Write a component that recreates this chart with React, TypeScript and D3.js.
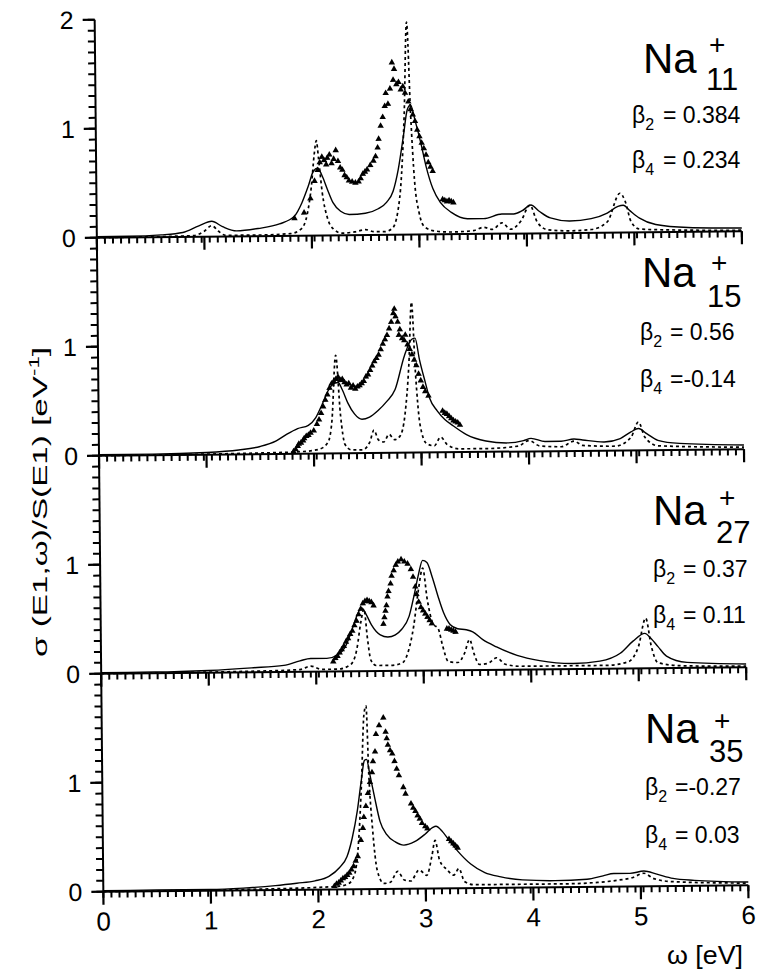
import React, { useEffect, useRef } from "react";
import * as d3 from "d3";

// photo-absorption spectra of Na cluster ions, 4 stacked panels
const clusterSizes = ["11", "15", "27", "35"];
const beta2Text = ["= 0.384", "= 0.56", "= 0.37", "=-0.27"];
const beta4Text = ["= 0.234", "=-0.14", "= 0.11", "= 0.03"];
const xTicks = [0, 1, 2, 3, 4, 5, 6];

const na11Solid = [
  [0, 0.01], [0.3, 0.01], [0.6, 0.02], [0.8, 0.04], [0.95, 0.1], [1.07, 0.14], [1.17, 0.09], [1.3, 0.05],
  [1.5, 0.07], [1.7, 0.11], [1.84, 0.18], [1.91, 0.3], [1.97, 0.45], [2.02, 0.59], [2.06, 0.62], [2.1, 0.55],
  [2.15, 0.42], [2.2, 0.3], [2.27, 0.22], [2.35, 0.19], [2.5, 0.2], [2.62, 0.24], [2.7, 0.3], [2.76, 0.4],
  [2.81, 0.6], [2.86, 0.9], [2.9, 1.15], [2.93, 1.19], [2.97, 1.05], [3.02, 0.85], [3.07, 0.62], [3.13, 0.42],
  [3.2, 0.29], [3.3, 0.2], [3.45, 0.14], [3.6, 0.14], [3.77, 0.18], [3.88, 0.18], [3.96, 0.21], [4.04, 0.26],
  [4.12, 0.2], [4.22, 0.14], [4.4, 0.11], [4.6, 0.13], [4.75, 0.18], [4.85, 0.24], [4.9, 0.25], [4.96, 0.2],
  [5.05, 0.13], [5.2, 0.07], [5.5, 0.04], [6, 0.03],
];
const na11Dashed = [
  [0, 0], [0.9, 0.01], [1.0, 0.05], [1.07, 0.1], [1.13, 0.05], [1.2, 0.01], [1.5, 0.01], [1.8, 0.02],
  [1.9, 0.06], [1.96, 0.2], [2.0, 0.45], [2.03, 0.75], [2.05, 0.87], [2.07, 0.7], [2.1, 0.4], [2.15, 0.15],
  [2.2, 0.06], [2.28, 0.02], [2.4, 0.03], [2.5, 0.05], [2.58, 0.03], [2.68, 0.03], [2.75, 0.06], [2.8, 0.2],
  [2.84, 0.55], [2.87, 1.1], [2.9, 1.95], [2.93, 1.1], [2.96, 0.5], [3.0, 0.2], [3.05, 0.07], [3.15, 0.03],
  [3.3, 0.02], [3.5, 0.03], [3.6, 0.06], [3.68, 0.04], [3.77, 0.1], [3.85, 0.04], [3.95, 0.12], [4.03, 0.26],
  [4.1, 0.1], [4.2, 0.03], [4.4, 0.02], [4.6, 0.03], [4.75, 0.1], [4.87, 0.36], [4.92, 0.28], [4.97, 0.1],
  [5.05, 0.03], [5.3, 0.02], [6, 0.01],
];
const na11Exp = [
  [1.84, 0.16], [1.93, 0.21], [1.99, 0.34], [2.03, 0.5], [2.06, 0.6], [2.08, 0.67], [2.1, 0.72], [2.12, 0.69],
  [2.14, 0.65], [2.15, 0.71], [2.17, 0.74], [2.19, 0.66], [2.21, 0.7], [2.23, 0.78], [2.25, 0.68], [2.27, 0.62],
  [2.29, 0.6], [2.31, 0.55], [2.33, 0.53], [2.35, 0.5], [2.38, 0.49], [2.41, 0.48], [2.44, 0.49], [2.46, 0.52],
  [2.48, 0.56], [2.5, 0.58], [2.52, 0.6], [2.55, 0.64], [2.58, 0.68], [2.6, 0.72], [2.62, 0.8], [2.63, 0.88],
  [2.65, 1.0], [2.67, 1.08], [2.69, 1.18], [2.7, 1.3], [2.72, 1.2], [2.74, 1.34], [2.76, 1.58], [2.78, 1.52],
  [2.77, 1.42], [2.8, 1.38], [2.82, 1.4], [2.84, 1.33], [2.86, 1.36], [2.88, 1.3], [2.91, 1.22], [2.93, 1.15],
  [2.95, 1.1], [2.97, 1.04], [2.99, 0.96], [3.01, 0.9], [3.03, 0.84], [3.05, 0.79], [3.07, 0.73], [3.09, 0.66],
  [3.11, 0.62], [3.13, 0.58], [3.22, 0.32], [3.24, 0.31], [3.26, 0.3], [3.28, 0.31], [3.3, 0.3], [3.32, 0.29],
];

const na15Solid = [
  [0, 0.01], [0.5, 0.01], [1.0, 0.02], [1.3, 0.04], [1.5, 0.07], [1.65, 0.12], [1.75, 0.18], [1.85, 0.23],
  [1.95, 0.26], [2.02, 0.33], [2.08, 0.45], [2.14, 0.58], [2.19, 0.64], [2.23, 0.65], [2.27, 0.58], [2.32, 0.46],
  [2.38, 0.36], [2.45, 0.31], [2.52, 0.33], [2.6, 0.39], [2.68, 0.47], [2.76, 0.58], [2.85, 0.89], [2.92, 1.04],
  [2.95, 1.05], [2.99, 0.85], [3.04, 0.65], [3.08, 0.5], [3.15, 0.38], [3.22, 0.3], [3.3, 0.24], [3.42, 0.16],
  [3.6, 0.1], [3.8, 0.08], [3.95, 0.1], [4.02, 0.12], [4.15, 0.09], [4.3, 0.09], [4.42, 0.11], [4.5, 0.1],
  [4.7, 0.08], [4.85, 0.11], [4.95, 0.17], [5.02, 0.2], [5.1, 0.15], [5.2, 0.09], [5.4, 0.06], [6, 0.04],
];
const na15Dashed = [
  [0, 0], [1.5, 0.01], [1.9, 0.02], [2.05, 0.04], [2.13, 0.1], [2.17, 0.3], [2.21, 0.9], [2.25, 0.35],
  [2.29, 0.08], [2.35, 0.03], [2.45, 0.03], [2.52, 0.1], [2.56, 0.21], [2.6, 0.12], [2.65, 0.1], [2.7, 0.17],
  [2.75, 0.12], [2.8, 0.15], [2.85, 0.35], [2.89, 0.8], [2.92, 1.38], [2.95, 0.75], [2.99, 0.25], [3.05, 0.08],
  [3.12, 0.06], [3.18, 0.14], [3.24, 0.07], [3.35, 0.03], [3.6, 0.03], [3.9, 0.05], [4.0, 0.1], [4.1, 0.05],
  [4.3, 0.04], [4.42, 0.09], [4.5, 0.05], [4.8, 0.04], [4.95, 0.12], [5.02, 0.26], [5.08, 0.12], [5.2, 0.04],
  [6, 0.02],
];
const na15Exp = [
  [1.81, 0.02], [1.83, 0.04], [1.85, 0.07], [1.86, 0.09], [1.88, 0.1], [1.9, 0.12], [1.91, 0.14], [1.93, 0.16],
  [1.95, 0.17], [1.97, 0.19], [2.0, 0.21], [2.03, 0.27], [2.05, 0.31], [2.07, 0.37], [2.09, 0.43], [2.11, 0.49],
  [2.13, 0.54], [2.15, 0.6], [2.17, 0.64], [2.19, 0.66], [2.21, 0.68], [2.23, 0.7], [2.25, 0.67], [2.27, 0.68],
  [2.29, 0.65], [2.31, 0.63], [2.33, 0.64], [2.35, 0.6], [2.37, 0.62], [2.39, 0.59], [2.41, 0.61], [2.43, 0.62],
  [2.45, 0.64], [2.47, 0.66], [2.49, 0.7], [2.51, 0.72], [2.53, 0.76], [2.55, 0.8], [2.57, 0.84], [2.59, 0.87],
  [2.61, 0.9], [2.63, 0.95], [2.65, 1.0], [2.67, 1.04], [2.69, 1.08], [2.71, 1.14], [2.73, 1.2], [2.75, 1.28],
  [2.76, 1.32], [2.77, 1.25], [2.79, 1.2], [2.8, 1.08], [2.81, 1.13], [2.83, 1.05], [2.85, 1.03], [2.86, 1.08],
  [2.88, 0.99], [2.9, 0.95], [2.92, 0.9], [2.94, 0.85], [2.96, 0.8], [2.98, 0.72], [3.0, 0.66], [3.02, 0.6],
  [3.04, 0.56], [3.07, 0.52], [3.2, 0.38], [3.22, 0.36], [3.24, 0.35], [3.26, 0.33], [3.28, 0.31], [3.3, 0.29],
  [3.32, 0.28], [3.34, 0.27], [3.36, 0.25],
];

const na27Solid = [
  [0, 0.01], [0.5, 0.01], [1.0, 0.02], [1.4, 0.04], [1.7, 0.06], [1.85, 0.1], [1.95, 0.12], [2.1, 0.12],
  [2.2, 0.15], [2.27, 0.22], [2.33, 0.36], [2.38, 0.5], [2.43, 0.58], [2.47, 0.52], [2.52, 0.42], [2.6, 0.33],
  [2.67, 0.31], [2.74, 0.33], [2.8, 0.38], [2.87, 0.5], [2.92, 0.7], [2.96, 0.88], [3.0, 1.01], [3.04, 0.99],
  [3.09, 0.85], [3.14, 0.68], [3.19, 0.53], [3.25, 0.42], [3.32, 0.38], [3.4, 0.37], [3.46, 0.35], [3.55, 0.28],
  [3.68, 0.21], [3.87, 0.13], [4.08, 0.08], [4.39, 0.05], [4.64, 0.07], [4.83, 0.14], [4.95, 0.25], [5.06, 0.32],
  [5.12, 0.27], [5.18, 0.2], [5.26, 0.11], [5.45, 0.05], [6, 0.03],
];
const na27Dashed = [
  [0, 0], [1.5, 0.01], [1.85, 0.02], [1.95, 0.05], [2.05, 0.02], [2.2, 0.02], [2.32, 0.06], [2.38, 0.2],
  [2.42, 0.45], [2.45, 0.57], [2.48, 0.3], [2.51, 0.1], [2.56, 0.05], [2.7, 0.05], [2.8, 0.07], [2.86, 0.18],
  [2.91, 0.4], [2.96, 0.75], [3.0, 0.94], [3.04, 0.65], [3.09, 0.43], [3.14, 0.38], [3.18, 0.22], [3.23, 0.08],
  [3.32, 0.07], [3.38, 0.15], [3.43, 0.28], [3.47, 0.15], [3.52, 0.05], [3.6, 0.06], [3.68, 0.11], [3.76, 0.05],
  [3.9, 0.03], [4.3, 0.03], [4.7, 0.03], [4.9, 0.06], [5.0, 0.2], [5.07, 0.46], [5.12, 0.2], [5.18, 0.05],
  [5.4, 0.02], [6, 0.01],
];
const na27Exp = [
  [2.16, 0.09], [2.18, 0.12], [2.2, 0.14], [2.22, 0.17], [2.24, 0.2], [2.26, 0.23], [2.28, 0.27], [2.3, 0.3],
  [2.32, 0.34], [2.34, 0.37], [2.36, 0.42], [2.38, 0.46], [2.4, 0.52], [2.42, 0.57], [2.44, 0.62], [2.46, 0.64],
  [2.48, 0.65], [2.5, 0.64], [2.52, 0.63], [2.54, 0.6], [2.63, 0.43], [2.64, 0.49], [2.65, 0.55], [2.66, 0.6],
  [2.67, 0.68], [2.68, 0.73], [2.7, 0.8], [2.71, 0.87], [2.73, 0.92], [2.75, 0.97], [2.77, 1.0], [2.8, 1.02],
  [2.83, 1.0], [2.86, 0.98], [2.89, 0.93], [2.91, 0.86], [2.93, 0.77], [2.94, 0.7], [2.96, 0.63], [2.98, 0.58],
  [3.0, 0.55], [3.02, 0.52], [3.04, 0.49], [3.06, 0.46], [3.08, 0.43], [3.22, 0.38], [3.24, 0.38], [3.26, 0.37],
  [3.28, 0.36], [3.3, 0.35],
];

const na35Solid = [
  [0, 0.01], [0.5, 0.01], [1.0, 0.01], [1.3, 0.02], [1.6, 0.04], [1.8, 0.06], [1.97, 0.08], [2.1, 0.12],
  [2.2, 0.2], [2.27, 0.3], [2.32, 0.47], [2.37, 0.72], [2.41, 1.0], [2.44, 1.18], [2.46, 1.19], [2.49, 1.05],
  [2.53, 0.85], [2.58, 0.62], [2.64, 0.5], [2.72, 0.43], [2.8, 0.4], [2.9, 0.43], [3.0, 0.5], [3.07, 0.56],
  [3.1, 0.57], [3.16, 0.52], [3.22, 0.44], [3.3, 0.34], [3.42, 0.22], [3.55, 0.14], [3.7, 0.1], [3.9, 0.07],
  [4.2, 0.06], [4.5, 0.07], [4.65, 0.1], [4.75, 0.12], [4.9, 0.12], [5.03, 0.14], [5.15, 0.11], [5.3, 0.07],
  [5.5, 0.05], [6, 0.03],
];
const na35Dashed = [
  [0, 0], [1.5, 0.01], [2.0, 0.02], [2.2, 0.03], [2.28, 0.05], [2.34, 0.14], [2.38, 0.45], [2.41, 0.95],
  [2.44, 1.6], [2.46, 1.68], [2.48, 1.05], [2.51, 0.55], [2.55, 0.17], [2.61, 0.05], [2.67, 0.06], [2.74, 0.16],
  [2.8, 0.08], [2.86, 0.07], [2.94, 0.17], [3.01, 0.12], [3.06, 0.3], [3.09, 0.44], [3.13, 0.26], [3.2, 0.17],
  [3.26, 0.12], [3.31, 0.18], [3.36, 0.06], [3.45, 0.03], [3.8, 0.03], [4.3, 0.03], [4.6, 0.04], [4.8, 0.06],
  [4.92, 0.08], [5.03, 0.12], [5.12, 0.07], [5.3, 0.04], [6, 0.02],
];
const na35Exp = [
  [2.15, 0.03], [2.17, 0.05], [2.19, 0.06], [2.21, 0.08], [2.23, 0.1], [2.25, 0.11], [2.27, 0.13], [2.29, 0.15],
  [2.31, 0.18], [2.33, 0.21], [2.35, 0.26], [2.37, 0.3], [2.4, 0.45], [2.42, 0.56], [2.43, 0.66], [2.45, 0.76],
  [2.47, 0.88], [2.49, 0.98], [2.51, 1.07], [2.52, 1.17], [2.54, 1.26], [2.55, 1.42], [2.58, 1.5], [2.62, 1.57],
  [2.64, 1.44], [2.65, 1.38], [2.66, 1.32], [2.68, 1.27], [2.7, 1.24], [2.72, 1.17], [2.74, 1.1], [2.76, 1.04],
  [2.8, 0.93], [2.82, 0.87], [2.87, 0.78], [2.89, 0.74], [2.91, 0.71], [2.93, 0.67], [2.95, 0.64], [2.97, 0.6],
  [3.0, 0.57], [3.02, 0.55], [3.22, 0.45], [3.24, 0.43], [3.26, 0.41], [3.28, 0.39], [3.3, 0.37],
];

const panels = [
  { solid: na11Solid, dashed: na11Dashed, exp: na11Exp },
  { solid: na15Solid, dashed: na15Dashed, exp: na15Exp },
  { solid: na27Solid, dashed: na27Dashed, exp: na27Exp },
  { solid: na35Solid, dashed: na35Dashed, exp: na35Exp },
];

// label placement in page pixels (the scan is slightly tilted, labels are not)
const labelPos = [
  { naX: 643, naY: 73, plusX: 709, plusY: 54, subX: 706, subY: 90, bX: 632, eqX: 663, b2Y: 123, b4Y: 168 },
  { naX: 642, naY: 287, plusX: 711, plusY: 272, subX: 707, subY: 307, bX: 640, eqX: 670, b2Y: 340, b4Y: 387 },
  { naX: 653, naY: 525, plusX: 719, plusY: 507, subX: 716, subY: 543, bX: 653, eqX: 683, b2Y: 577, b4Y: 623 },
  { naX: 645, naY: 743, plusX: 714, plusY: 730, subX: 709, subY: 762, bX: 645, eqX: 675, b2Y: 795, b4Y: 843 },
];

const FONT = "'Liberation Sans', Arial, sans-serif";
const LEFT = 99;
const TOP = 16.5;
const PLOT_W = 645;
const PANEL_H = 218;

const App = () => {
  const ref = useRef<SVGGElement>(null);

  useEffect(() => {
    const g = d3.select(ref.current);
    g.selectAll("*").remove();
    const x = d3.scaleLinear().domain([0, 6]).range([LEFT, LEFT + PLOT_W]);
    const xMinor = d3.range(0, 81).map((k) => k * 0.075);

    const strokePath = (sel, d, w) =>
      sel.append("path").attr("d", d).attr("fill", "none").attr("stroke", "#000").attr("stroke-width", w);

    // one continuous y axis line through all panels
    strokePath(g, `M${LEFT},${TOP}V${TOP + 4 * PANEL_H}`, 2);

    panels.forEach((p, i) => {
      const y = d3
        .scaleLinear()
        .domain([0, 2])
        .range([TOP + (i + 1) * PANEL_H, TOP + i * PANEL_H]);
      const pg = g.append("g");
      const yMinor = d3.range(0, i === 0 ? 21 : 20).map((k) => k / 10);
      const yMajor = i === 0 ? [0, 1, 2] : [0, 1];
      const y0 = y(0);

      // y ticks, pointing outward
      strokePath(pg, yMinor.map((v) => `M${LEFT - 7},${y(v)}H${LEFT}`).join(""), 2);
      strokePath(pg, yMajor.map((v) => `M${LEFT - 12},${y(v)}H${LEFT}`).join(""), 2.2);
      pg.selectAll("text.ylab")
        .data(yMajor)
        .enter()
        .append("text")
        .attr("class", "ylab")
        .attr("x", LEFT - 21)
        .attr("y", (d) => y(d))
        .attr("dy", "0.36em")
        .attr("text-anchor", "end")
        .attr("font-family", FONT)
        .attr("font-size", 25)
        .text((d) => d);

      // x axis line and downward ticks
      strokePath(pg, `M${x(0)},${y0}H${x(6)}`, 2);
      strokePath(pg, xMinor.map((v) => `M${x(v)},${y0}v6`).join(""), 2);
      strokePath(pg, xTicks.map((v) => `M${x(v)},${y0}v13`).join(""), 2.2);
      if (i === 3) {
        pg.selectAll("text.xlab")
          .data(xTicks)
          .enter()
          .append("text")
          .attr("class", "xlab")
          .attr("x", (d) => x(d))
          .attr("y", y0 + 20)
          .attr("dy", "0.72em")
          .attr("text-anchor", "middle")
          .attr("font-family", FONT)
          .attr("font-size", 26)
          .text((d) => d);
      }

      const line = d3
        .line()
        .x((d) => x(d[0]))
        .y((d) => y(d[1]))
        .curve(d3.curveMonotoneX);

      pg.append("path")
        .datum(p.dashed)
        .attr("d", line)
        .attr("fill", "none")
        .attr("stroke", "#000")
        .attr("stroke-width", 1.7)
        .attr("stroke-dasharray", "3,3");

      pg.append("path")
        .datum(p.solid)
        .attr("d", line)
        .attr("fill", "none")
        .attr("stroke", "#000")
        .attr("stroke-width", 1.4);

      const tri = d3.symbol().type(d3.symbolTriangle).size(18);
      pg.selectAll("path.exp")
        .data(p.exp)
        .enter()
        .append("path")
        .attr("class", "exp")
        .attr("d", tri)
        .attr("transform", (d) => `translate(${x(d[0])},${y(d[1])})`)
        .attr("fill", "#000");
    });
  }, []);

  return (
    <svg width={758} height={970} style={{ position: "absolute", left: 0, top: 0, background: "#fff" }}>
      <g ref={ref} transform="rotate(-0.57 421.5 452.5)" />
      <g fontFamily={FONT} fill="#000">
        {labelPos.map((l, i) => (
          <g key={i}>
            <text x={l.naX} y={l.naY} fontSize={42}>Na</text>
            <text x={l.plusX} y={l.plusY} fontSize={28}>+</text>
            <text x={l.subX} y={l.subY} fontSize={31}>{clusterSizes[i]}</text>
            <text x={l.bX} y={l.b2Y} fontSize={23}>
              β<tspan fontSize={16} dy={7}>2</tspan>
            </text>
            <text x={l.eqX} y={l.b2Y} fontSize={23}>{beta2Text[i]}</text>
            <text x={l.bX} y={l.b4Y} fontSize={23}>
              β<tspan fontSize={16} dy={7}>4</tspan>
            </text>
            <text x={l.eqX} y={l.b4Y} fontSize={23}>{beta4Text[i]}</text>
          </g>
        ))}
        <text x={743} y={964} fontSize={26} textAnchor="end" textLength={76} lengthAdjust="spacingAndGlyphs">
          ω [eV]
        </text>
        <text
          transform="translate(47,502) rotate(-90)"
          fontSize={21}
          textAnchor="middle"
          textLength={310}
          lengthAdjust="spacingAndGlyphs"
        >
          σ (E1,ω)/S(E1) [eV<tspan dy={-8} fontSize={14}>-1</tspan>
          <tspan dy={8}>]</tspan>
        </text>
      </g>
    </svg>
  );
};

export default App;
